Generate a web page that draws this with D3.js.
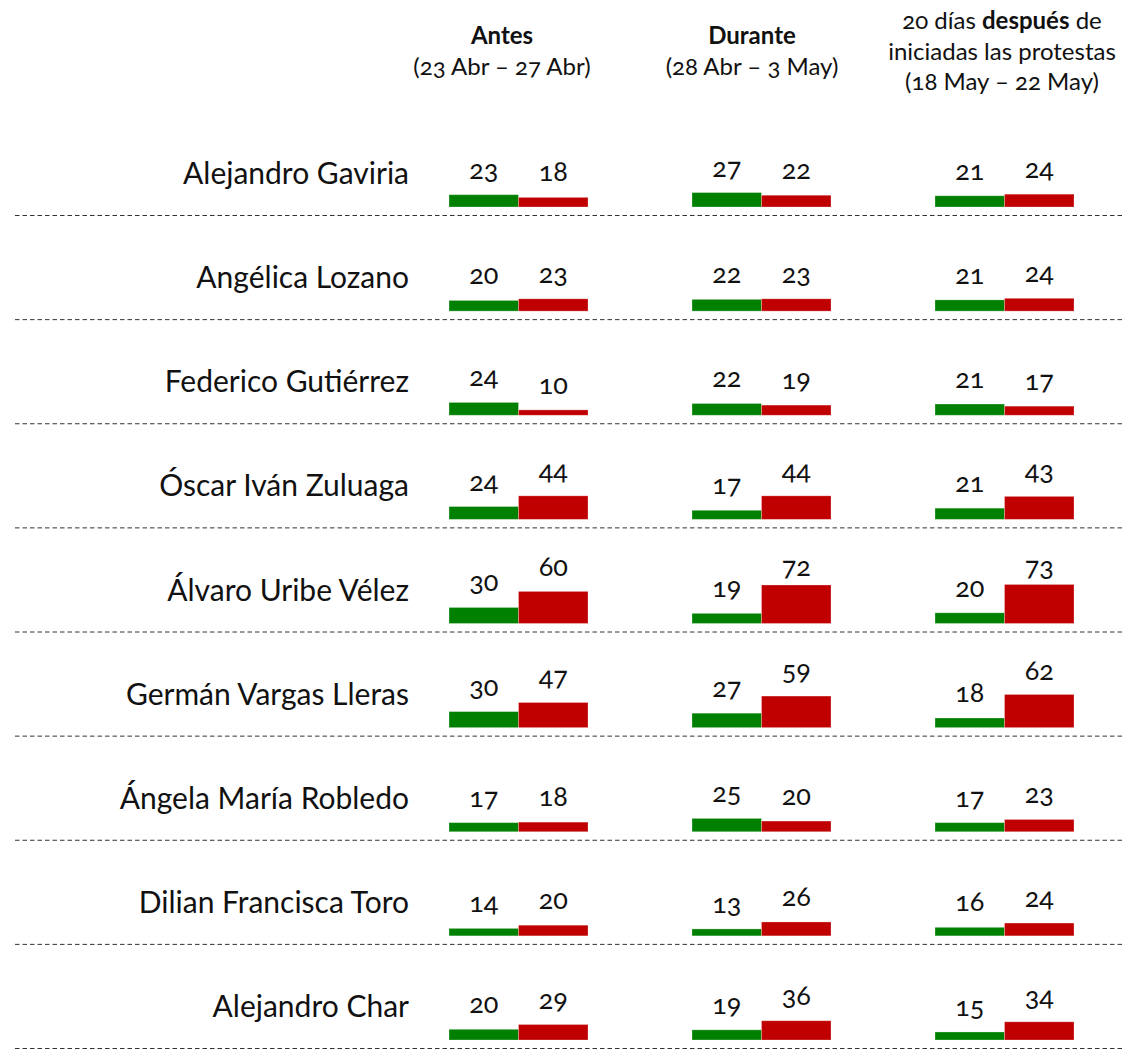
<!DOCTYPE html>
<html>
<head>
<meta charset="utf-8">
<script src="https://cdn.jsdelivr.net/npm/d3@7"></script>
<style>
  html, body { margin: 0; padding: 0; background: #fff; }
  svg text { font-family: Lato, "Open Sans", sans-serif; fill: #111; font-variant-numeric: oldstyle-nums; }
</style>
</head>
<body>
<svg id="chart" width="1140" height="1059"></svg>
<script>
// Periods (columns)
const periods = ["antes", "durante", "despues"];

// People (rows)
const people = [
  "Alejandro Gaviria",
  "Angélica Lozano",
  "Federico Gutiérrez",
  "Óscar Iván Zuluaga",
  "Álvaro Uribe Vélez",
  "Germán Vargas Lleras",
  "Ángela María Robledo",
  "Dilian Francisca Toro",
  "Alejandro Char"
];

// Positive (green) share per person, one value per period
const positive = [
  [23, 27, 21],
  [20, 22, 21],
  [24, 22, 21],
  [24, 17, 21],
  [30, 19, 20],
  [30, 27, 18],
  [17, 25, 17],
  [14, 13, 16],
  [20, 19, 15]
];

// Negative (red) share per person, one value per period
const negative = [
  [18, 22, 24],
  [23, 23, 24],
  [10, 19, 17],
  [44, 44, 43],
  [60, 72, 73],
  [47, 59, 62],
  [18, 20, 23],
  [20, 26, 24],
  [29, 36, 34]
];

// Column headers: each line is a list of [text, bold] runs
const headers = [
  [[["Antes", true]], [["(23 Abr – 27 Abr)", false]]],
  [[["Durante", true]], [["(28 Abr – 3 May)", false]]],
  [[["20 días ", false], ["después", true], [" de", false]],
   [["iniciadas las protestas", false]],
   [["(18 May – 22 May)", false]]]
];

const svg = d3.select("#chart");

const GREEN = "#008000";
const RED = "#c00000";

// Row baselines (bottom of the bars)
const y = d3.scalePoint().domain(people).range([207, 1040]);
// Column centres (the seam between green and red bars)
const x = d3.scalePoint().domain(periods).range([518.5, 1004.5]);
// Header centres
const xHead = d3.scalePoint().domain(periods).range([502, 1002]);
// Bar height per percentage point
const h = d3.scaleLinear().domain([0, 100]).range([0, 53.5]);
const barW = 69.5;

// Value labels sit above their bar, but never higher than the row allows
const labelGap = 25;
const labelMax = 57;
const labelY = v => -Math.min(h(v) + labelGap, labelMax) + 9;

// Headers
const headG = svg.append("g");
headers.forEach((lines, ci) => {
  const lineH = 30.5;
  const top = 29 + (3 - lines.length) * lineH / 2;
  lines.forEach((runs, li) => {
    const t = headG.append("text")
      .attr("x", xHead(periods[ci]))
      .attr("y", top + li * lineH)
      .attr("text-anchor", "middle")
      .attr("font-size", 24);
    runs.forEach(([txt, bold]) => {
      t.append("tspan").attr("font-weight", bold ? 700 : 400).text(txt);
    });
  });
});

// Rows
const rows = svg.append("g").selectAll("g.row")
  .data(people.map((name, i) => ({ name, i })))
  .join("g")
  .attr("class", "row")
  .attr("transform", d => `translate(0,${y(d.name)})`);

rows.append("text")
  .attr("x", 409)
  .attr("y", -23)
  .attr("text-anchor", "end")
  .attr("font-size", 30)
  .text(d => d.name);

rows.append("line")
  .attr("x1", 15).attr("x2", 1122)
  .attr("y1", 8.5).attr("y2", 8.5)
  .attr("stroke", "#333")
  .attr("stroke-width", 1)
  .attr("stroke-dasharray", "4.5,3");

// Bars and values
const cells = rows.selectAll("g.cell")
  .data(d => periods.map((p, j) => ({ p, pos: positive[d.i][j], neg: negative[d.i][j] })))
  .join("g")
  .attr("class", "cell")
  .attr("transform", d => `translate(${x(d.p)},0)`);

const barDefs = [
  { key: "pos", color: GREEN, dx: -barW },
  { key: "neg", color: RED, dx: 0 }
];

barDefs.forEach(b => {
  cells.append("rect")
    .attr("x", b.dx)
    .attr("y", d => -h(d[b.key]))
    .attr("width", barW)
    .attr("height", d => h(d[b.key]))
    .attr("fill", b.color)
    .attr("stroke", "rgba(255,255,255,0.35)")
    .attr("stroke-width", 0.8);

  cells.append("text")
    .attr("x", b.dx + barW / 2)
    .attr("y", d => labelY(d[b.key]))
    .attr("text-anchor", "middle")
    .attr("font-size", 27)
    .text(d => d[b.key]);
});
</script>
</body>
</html>
